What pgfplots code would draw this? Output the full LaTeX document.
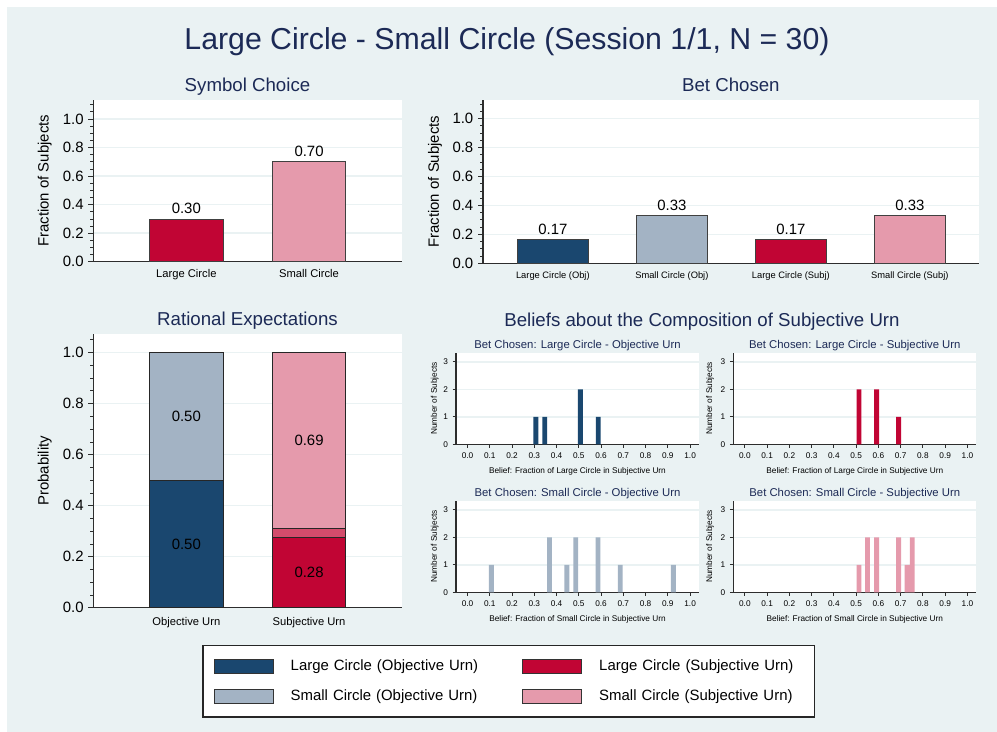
\documentclass[border=0pt]{standalone}
\usepackage{pgfplots}
\pgfplotsset{compat=1.18}
\usepackage{fontspec}
\setmainfont{Liberation Sans}
\definecolor{bgc}{RGB}{234,242,243}
\definecolor{ttl}{RGB}{28,42,86}
\definecolor{cnavy}{RGB}{26,71,111}
\definecolor{clblue}{RGB}{163,179,196}
\definecolor{cred}{RGB}{193,5,52}
\definecolor{cpink}{RGB}{229,154,172}
\definecolor{cmid}{RGB}{211,76,108}
\definecolor{axc}{RGB}{45,45,45}
\newcommand{\fs}[1]{\fontsize{#1pt}{#1pt}\selectfont}
\def\pxu{0.75pt}
\pgfplotsset{
  stata/.style={
    scale only axis, anchor=north west,
    axis background/.style={fill=white},
    axis x line*=bottom, axis y line*=left,
    axis line style={axc, line width=0.8pt},
    tick align=outside,
    every tick/.style={axc, line width=0.6pt},
    major tick length=3.75pt, minor tick length=2.25pt,
    ymajorgrids, major grid style={bgc, line width=1.1pt},
    tick label style={text=black},
    title style={text=ttl, at={(0.5,1)}, anchor=base},
    ylabel style={text=black},
    /pgf/number format/assume math mode=true,
  },
  catbar/.style={
    stata,
    xtick style={draw=none},
    ybar, bar width=0.6, bar shift=0pt,
    ymin=0,
    ytick={0,0.2,0.4,0.6,0.8,1.0},
    yticklabel={\pgfmathprintnumber[fixed,fixed zerofill,precision=1]{\tick}},
    yticklabel style={font=\fs{11.2}},
    xticklabel style={yshift=1.2pt},
    title style={font=\fs{14}, yshift=0.75pt},
    ylabel style={font=\fs{11.2}},
  },
  hist/.style={
    stata,
    width=182.25pt, height=68.7pt,
    xmin=-0.052, xmax=1.04, ymin=0, ymax=3.33,
    xtick={0,0.1,0.2,0.3,0.4,0.5,0.6,0.7,0.8,0.9,1},
    ytick={0,1,2,3},
    xticklabel={\pgfmathprintnumber[fixed,fixed zerofill,precision=1]{\tick}},
    tick label style={font=\fs{6.2}},
    major tick length=2.5pt,
    title style={font=\fs{8.5}, yshift=-2.7pt},
    xlabel style={font=\fs{6.2}, at={(axis description cs:0.5,-0.29)}, anchor=center},
    ylabel style={font=\fs{6.2}, at={(axis description cs:-0.088,0.5)}, anchor=center},
    ylabel={Number of Subjects},
    ybar, bar width=0.022, bar shift=0pt,
  },
}
\begin{document}
\begin{tikzpicture}
\fill[white] (0,0) rectangle (997*\pxu,-732*\pxu);
\fill[bgc] (7*\pxu,-7*\pxu) rectangle (997*\pxu,-732*\pxu);
\node[anchor=base, font=\fs{22.7}, text=ttl] at (507*\pxu,-49.3*\pxu) {Large Circle - Small Circle (Session 1/1, N = 30)};
\node[anchor=base, font=\fs{14}, text=ttl] at (702*\pxu,-326*\pxu) {Beliefs about the Composition of Subjective Urn};

% Panel 1: Symbol Choice
\begin{axis}[catbar, at={(93.3*\pxu,-100*\pxu)}, width=231.3pt, height=121.3pt,
  xmin=0.242, xmax=2.755, ymax=1.133,
  minor ytick={0.05,0.1,0.15,0.25,0.3,0.35,0.45,0.5,0.55,0.65,0.7,0.75,0.85,0.9,0.95,1.05,1.1},
  xtick={1,2}, xticklabels={Large Circle, Small Circle},
  xticklabel style={font=\fs{8.4}},
  title={Symbol Choice},
  ylabel={Fraction of Subjects},
  ylabel style={at={(axis description cs:-0.157,0.5)}, anchor=center},
  nodes near coords={\pgfmathprintnumber[fixed,fixed zerofill,precision=2]{\pgfplotspointmeta}},
  every node near coord/.append style={font=\fs{11.2}, text=black},
]
\addplot[fill=cred, draw=black!75, line width=0.6pt, bar shift=0pt] coordinates {(1,0.30)};
\addplot[fill=cpink, draw=black!75, line width=0.6pt, bar shift=0pt] coordinates {(2,0.70)};
\end{axis}

% Panel 2: Bet Chosen
\begin{axis}[catbar, at={(483*\pxu,-100*\pxu)}, width=371.8pt, height=122.5pt,
  xmin=0.413, xmax=4.579, ymax=1.128,
  minor ytick={0.05,0.1,0.15,0.25,0.3,0.35,0.45,0.5,0.55,0.65,0.7,0.75,0.85,0.9,0.95,1.05,1.1},
  xtick={1,2,3,4}, xticklabels={Large Circle (Obj), Small Circle (Obj), Large Circle (Subj), Small Circle (Subj)},
  xticklabel style={font=\fs{7}},
  title={Bet Chosen},
  ylabel={Fraction of Subjects},
  ylabel style={at={(axis description cs:-0.0968,0.5)}, anchor=center},
  nodes near coords={\pgfmathprintnumber[fixed,fixed zerofill,precision=2]{\pgfplotspointmeta}},
  every node near coord/.append style={font=\fs{11.2}, text=black},
]
\addplot[fill=cnavy, draw=black!75, line width=0.6pt, bar shift=0pt] coordinates {(1,0.1667)};
\addplot[fill=clblue, draw=black!75, line width=0.6pt, bar shift=0pt] coordinates {(2,0.3333)};
\addplot[fill=cred, draw=black!75, line width=0.6pt, bar shift=0pt] coordinates {(3,0.1667)};
\addplot[fill=cpink, draw=black!75, line width=0.6pt, bar shift=0pt] coordinates {(4,0.3333)};
\end{axis}

% Panel 3: Rational Expectations
\begin{axis}[catbar, ybar stacked, bar width=0.6, at={(93.3*\pxu,-334*\pxu)}, width=231.3pt, height=205.3pt,
  xmin=0.242, xmax=2.755, ymax=1.073,
  minor ytick={0.05,0.1,0.15,0.25,0.3,0.35,0.45,0.5,0.55,0.65,0.7,0.75,0.85,0.9,0.95,1.05},
  xtick={1,2}, xticklabels={Objective Urn, Subjective Urn},
  xticklabel style={font=\fs{8.4}, yshift=-1.2pt},
  title={Rational Expectations},
  ylabel={Probability},
  ylabel style={at={(axis description cs:-0.157,0.5)}, anchor=center},
]
\addplot[fill=cnavy, draw=black!85, line width=0.6pt, bar shift=0pt] coordinates {(1,0.50) (2,0)};
\addplot[fill=clblue, draw=black!85, line width=0.6pt, bar shift=0pt] coordinates {(1,0.50) (2,0)};
\addplot[fill=cred, draw=black!85, line width=0.6pt, bar shift=0pt] coordinates {(1,0) (2,0.276)};
\addplot[fill=cmid, draw=black!85, line width=0.6pt, bar shift=0pt] coordinates {(1,0) (2,0.034)};
\addplot[fill=cpink, draw=black!85, line width=0.6pt, bar shift=0pt] coordinates {(1,0) (2,0.69)};
\end{axis}
% overlay axis with segment labels
\begin{axis}[at={(93.3*\pxu,-334*\pxu)}, anchor=north west, scale only axis,
  width=231.3pt, height=205.3pt, hide axis,
  xmin=0.242, xmax=2.755, ymin=0, ymax=1.073]
\addplot[only marks, mark=none, nodes near coords, point meta=explicit symbolic,
  every node near coord/.style={anchor=center, font=\fs{11.2}, text=black}]
  coordinates {(1,0.25) [0.50] (1,0.75) [0.50] (2,0.138) [0.28] (2,0.655) [0.69]};
\end{axis}

% Histograms
\begin{axis}[hist, at={(456*\pxu,-352.7*\pxu)},
  title={Bet Chosen: Large Circle - Objective Urn},
  xlabel={Belief: Fraction of Large Circle in Subjective Urn}]
\addplot[fill=cnavy, draw=none, bar shift=0pt] coordinates {(0.307,1) (0.347,1) (0.507,2) (0.587,1)};
\end{axis}
\begin{axis}[hist, at={(733.3*\pxu,-352.7*\pxu)},
  ylabel style={at={(axis description cs:-0.096,0.5)}},
  title={Bet Chosen: Large Circle - Subjective Urn},
  xlabel={Belief: Fraction of Large Circle in Subjective Urn}]
\addplot[fill=cred, draw=none, bar shift=0pt] coordinates {(0.513,2) (0.592,2) (0.691,1)};
\end{axis}
\begin{axis}[hist, at={(456*\pxu,-500.7*\pxu)},
  title={Bet Chosen: Small Circle - Objective Urn},
  xlabel={Belief: Fraction of Small Circle in Subjective Urn}]
\addplot[fill=clblue, draw=none, bar shift=0pt] coordinates {(0.107,1) (0.368,2) (0.446,1) (0.486,2) (0.586,2) (0.686,1) (0.925,1)};
\end{axis}
\begin{axis}[hist, at={(733.3*\pxu,-500.7*\pxu)},
  ylabel style={at={(axis description cs:-0.096,0.5)}},
  title={Bet Chosen: Small Circle - Subjective Urn},
  xlabel={Belief: Fraction of Small Circle in Subjective Urn}]
\addplot[fill=cpink, draw=none, bar shift=0pt] coordinates {(0.513,1) (0.551,2) (0.592,2) (0.691,2) (0.729,1) (0.752,2)};
\end{axis}

% Legend
\begin{axis}[at={(202.3*\pxu,-644.7*\pxu)}, anchor=north west, scale only axis,
  width=457.3pt, height=53.25pt, hide axis,
  xmin=0, xmax=1, ymin=0, ymax=1,
  legend columns=2, legend cell align=left,
  legend style={at={(0,1)}, anchor=north west, draw=black!85, line width=0.9pt, fill=white,
    font=\fs{11.2}, inner xsep=8.25pt, inner ysep=10pt, row sep=11.5pt,
    nodes={inner sep=0pt, text width=153pt},
    /tikz/every odd column/.append style={column sep=12.75pt},
    /tikz/every even column/.append style={column sep=20.8pt}},
  legend image code/.code={\draw[#1, line width=0.6pt] (0pt,-5.25pt) rectangle (44.25pt,5.25pt);},
]
\addlegendimage{fill=cnavy, draw=black!80}
\addlegendentry{Large Circle (Objective Urn)}
\addlegendimage{fill=cred, draw=black!80}
\addlegendentry{Large Circle (Subjective Urn)}
\addlegendimage{fill=clblue, draw=black!80}
\addlegendentry{Small Circle (Objective Urn)}
\addlegendimage{fill=cpink, draw=black!80}
\addlegendentry{Small Circle (Subjective Urn)}
\end{axis}
\end{tikzpicture}
\end{document}
